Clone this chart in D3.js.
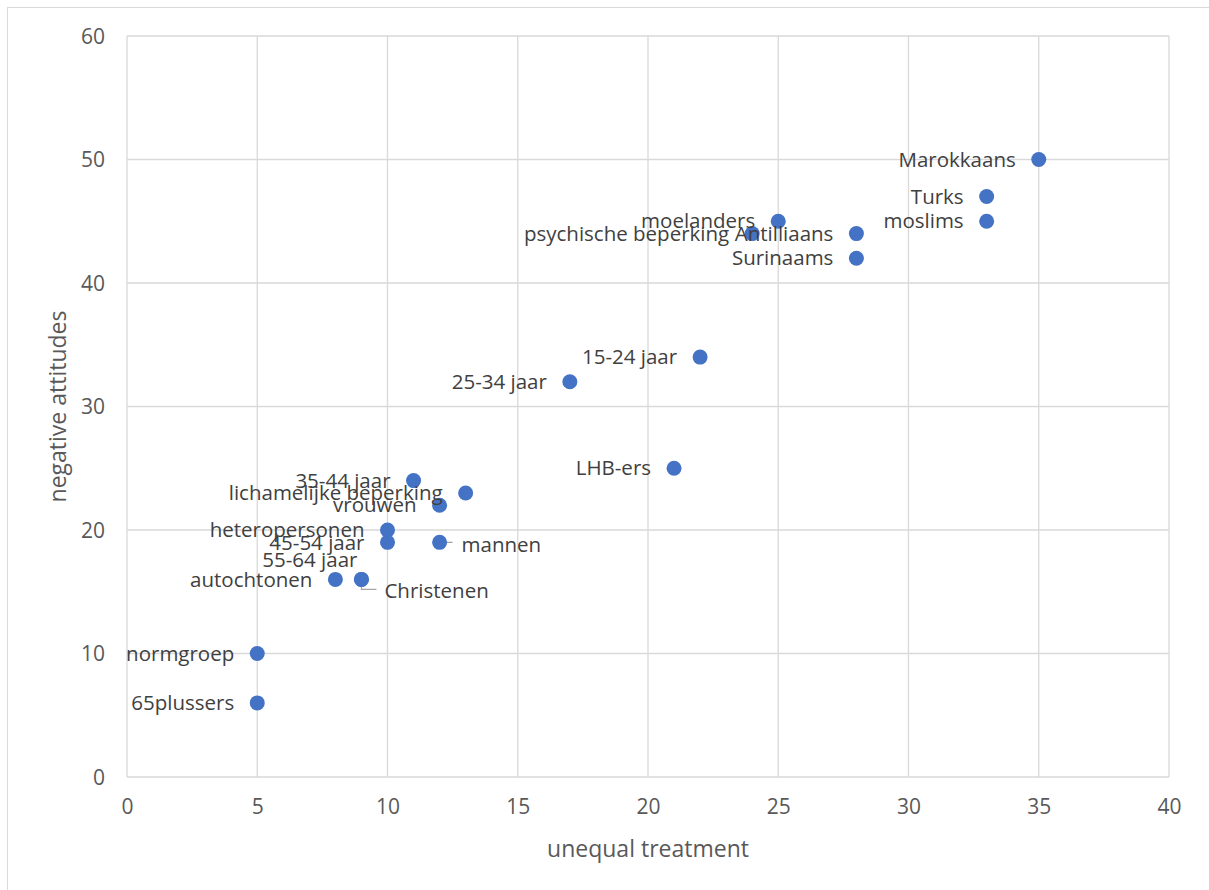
<!DOCTYPE html>
<html>
<head>
<meta charset="utf-8">
<script src="https://cdn.jsdelivr.net/npm/d3@7"></script>
<style>
  html, body { margin: 0; padding: 0; background: #fff; }
  svg { display: block; }
  text { font-family: "Open Sans", "Liberation Sans", sans-serif; }
</style>
</head>
<body>
<script>
// Groups and their scores
const groups = [
  "Marokkaans", "Turks", "moslims", "moelanders", "psychische beperking",
  "Antilliaans", "Surinaams", "15-24 jaar", "25-34 jaar", "LHB-ers",
  "35-44 jaar", "lichamelijke beperking", "vrouwen", "heteropersonen",
  "45-54 jaar", "mannen", "55-64 jaar", "Christenen", "autochtonen",
  "normgroep", "65plussers"
];
const unequalTreatment = [35, 33, 33, 25, 24, 28, 28, 22, 17, 21, 11, 13, 12, 10, 10, 12, 9, 9, 8, 5, 5];
const negativeAttitudes = [50, 47, 45, 45, 44, 44, 42, 34, 32, 25, 24, 23, 22, 20, 19, 19, 16, 16, 16, 10, 6];

const xTicks = [0, 5, 10, 15, 20, 25, 30, 35, 40];
const yTicks = [0, 10, 20, 30, 40, 50, 60];

// Label placement per group: side of the point, and optional nudges / leader line
const labelPlacement = {
  "mannen":     { side: "right", dx: 22, dy: 2, leader: true },
  "Christenen": { side: "right", dx: 23, dy: 11, leader: true },
  "55-64 jaar": { side: "left", dx: 19, dy: -20 }
};

const W = 1209, H = 890;
const margin = { left: 127, right: W - 1169, top: 36, bottom: H - 777 };

const svg = d3.select("body").append("svg").attr("width", W).attr("height", H);

// chart frame
svg.append("rect")
  .attr("x", 7.5).attr("y", 7.5)
  .attr("width", W).attr("height", H)
  .attr("fill", "#fff").attr("stroke", "#d9d9d9").attr("stroke-width", 1);

const x = d3.scaleLinear().domain([0, 40]).range([margin.left, W - margin.right]);
const y = d3.scaleLinear().domain([0, 60]).range([H - margin.bottom, margin.top]);

// gridlines
const grid = svg.append("g").attr("stroke", "#d9d9d9").attr("stroke-width", 1.3);
grid.selectAll("line.v").data(xTicks).join("line")
  .attr("x1", d => x(d)).attr("x2", d => x(d))
  .attr("y1", y(0)).attr("y2", y(60));
grid.selectAll("line.h").data(yTicks).join("line")
  .attr("y1", d => y(d)).attr("y2", d => y(d))
  .attr("x1", x(0)).attr("x2", x(40));

// axes (labels only)
const xAxis = svg.append("g")
  .attr("transform", `translate(0,${y(0)})`)
  .call(d3.axisBottom(x).tickValues(xTicks).tickSize(0).tickPadding(22));
const yAxis = svg.append("g")
  .attr("transform", `translate(${x(0)},0)`)
  .call(d3.axisLeft(y).tickValues(yTicks).tickSize(0).tickPadding(22));
[xAxis, yAxis].forEach(a => {
  a.select(".domain").remove();
  a.selectAll("text")
    .attr("fill", "#595959")
    .style("font-size", "21px")
    .style("font-family", "'Open Sans', sans-serif");
});
yAxis.selectAll("text").attr("dy", "0.35em");

// axis titles
svg.append("text")
  .attr("x", (x(0) + x(40)) / 2).attr("y", 857)
  .attr("text-anchor", "middle")
  .attr("fill", "#595959").style("font-size", "23px")
  .text("unequal treatment");
svg.append("text")
  .attr("transform", `translate(66,${(y(0) + y(60)) / 2}) rotate(-90)`)
  .attr("text-anchor", "middle")
  .attr("fill", "#595959").style("font-size", "23px")
  .text("negative attitudes");

const data = groups.map((g, i) => ({ name: g, ux: unequalTreatment[i], ny: negativeAttitudes[i] }));

// leader lines
const leaders = svg.append("g").attr("stroke", "#a6a6a6").attr("stroke-width", 1.3).attr("fill", "none");
data.forEach(d => {
  const p = labelPlacement[d.name];
  if (!p || !p.leader) return;
  const px = x(d.ux), py = y(d.ny);
  if (p.dy > 5) {
    leaders.append("path").attr("d", `M${px},${py + 2}V${py + p.dy - 1}H${px + p.dx - 8}`);
  } else {
    leaders.append("path").attr("d", `M${px},${py}H${px + p.dx - 9}`);
  }
});

// points
svg.append("g").selectAll("circle").data(data).join("circle")
  .attr("cx", d => x(d.ux)).attr("cy", d => y(d.ny))
  .attr("r", 7.5).attr("fill", "#4472c4");

// data labels
svg.append("g").selectAll("text").data(data).join("text")
  .each(function (d) {
    const p = labelPlacement[d.name] || { side: "left", dx: 0, dy: 0 };
    const px = x(d.ux), py = y(d.ny);
    const t = d3.select(this);
    if (p.side === "right") {
      t.attr("x", px + p.dx).attr("y", py + p.dy).attr("text-anchor", "start");
    } else {
      t.attr("x", px - 23 + p.dx).attr("y", py + p.dy).attr("text-anchor", "end");
    }
  })
  .attr("dy", "0.35em")
  .attr("fill", "#404040")
  .style("font-size", "20.5px")
  .text(d => d.name);
</script>
</body>
</html>
